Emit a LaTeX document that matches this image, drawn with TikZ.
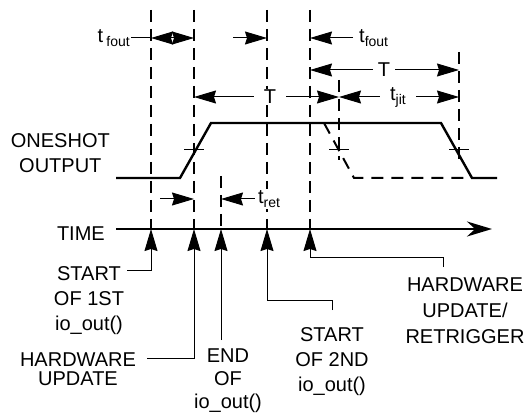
\documentclass[tikz,border=0pt]{standalone}
\usepackage{fontspec}
\setmainfont{Liberation Sans}
\usetikzlibrary{positioning, arrows.meta}
\newcommand{\lowsub}[1]{\raisebox{-4pt}{\fontsize{14}{14}\selectfont #1}}
\tikzset{
  txt/.style={font=\fontsize{20}{25}\selectfont, inner sep=0pt, align=center},
  grid/.style={line width=1.3pt, dash pattern=on 12pt off 7pt},
  sig/.style={line width=2.4pt},
  dim/.style={line width=1pt},
  lead/.style={line width=1pt},
  crs/.style={line width=1pt},
}

\begin{document}
\begin{tikzpicture}[x=1pt, y=-1pt, >={Stealth[length=22pt, width=13pt, inset=2pt]}]
  \useasboundingbox (0,0) rectangle (528,417);
  % marks on the time axis
  \coordinate (g1) at (151,229);
  \coordinate (g2) at (194,229);
  \coordinate (g3) at (221,229);
  \coordinate (g4) at (267,229);
  \coordinate (g5) at (310,229);
  \coordinate (g6) at (339,150);
  \coordinate (g7) at (459,150);
  \coordinate (ax0) at (116,229);
  \coordinate (ax1) at (492,229);

  % dashed markers
  \foreach \x in {151,194,267,310} \draw[grid] (\x,10) -- (\x,229);
  \draw[grid] (221,176) -- (g3);
  \draw[grid] (339,80) -- (339,160);
  \draw[grid] (459,52) -- (459,160);

  % oneshot output
  \draw[sig] (116,178) -- (180,178) -- (211,123) -- (441,123) -- (472,178) -- (497,178);
  \draw[line width=2pt, dash pattern=on 12pt off 8pt] (324,123) -- (354,178) -- (472,178);
  \foreach \x in {194,339,459} \draw[crs] (\x-10,150) -- (\x+10,150);

  \node[txt, anchor=north east] (osout) at (110,133) {ONESHOT\\OUTPUT};
  \node[txt, left=11pt of ax0, yshift=-5pt] (time) {TIME};
  \draw[sig, -{Stealth[length=25pt, width=15pt]}] (ax0) -- (ax1);

  % events
  \node[txt, anchor=north] (start1) at (89,266) {START\\OF 1ST\\io\_out()};
  \node[txt, anchor=north, font=\fontsize{20}{19}\selectfont] (hw1) at (78,353) {HARDWARE\\UPDATE};
  \node[txt, anchor=north, font=\fontsize{20}{23}\selectfont] (end1) at (228,349) {END\\OF\\io\_out()};
  \node[txt, anchor=north] (start2) at (332,327) {START\\OF 2ND\\io\_out()};
  \node[txt, anchor=north, font=\fontsize{20}{26}\selectfont] (hw2) at (465,278) {HARDWARE\\UPDATE/\\RETRIGGER};
  \draw[lead,->] ([xshift=3pt,yshift=-4pt]start1.north east) -| (g1);
  \draw[lead,->] ([xshift=11pt,yshift=-5pt]hw1.north east) -| (g2);
  \draw[lead,->] ([yshift=9pt]end1.north -| g3) -- (g3);
  \draw[lead,->] ([yshift=17pt]start2.north) -- ([yshift=27pt]start2.north) -| (g4);
  \draw[lead,->] ([xshift=-22pt,yshift=11pt]hw2.north) -- ([xshift=-22pt,yshift=21pt]hw2.north) -| (g5);

  % timings
  \node[txt, anchor=east, inner sep=1pt] (tf1) at (131,38) {t\,\lowsub{fout}};
  \draw[dim] (tf1) -- (tf1 -| g1);
  \draw[dim,<->] (tf1 -| g1) -- (tf1 -| g2);
  \draw[dim,->] ([xshift=-34pt]tf1 -| g4) -- (tf1 -| g4);
  \node[txt, anchor=west, inner sep=1pt] (tf2) at (358,38) {t\lowsub{fout}};
  \draw[dim,->] ([xshift=-5pt]tf2.west) -- (tf2.west -| g5);

  \node[txt, inner xsep=5pt] (T2) at (384,70) {T};
  \draw[dim,->] (T2) -- (T2 -| g5);
  \draw[dim,->] (T2) -- (T2 -| g7);

  \node[txt, fill=white, inner xsep=10pt, inner ysep=1pt] (T1) at (270,97) {T};
  \draw[dim,->] (T1) -- (T1 -| g2);
  \draw[dim,->] (T1) -- (T1 -| g6);
  \node[txt, inner xsep=10pt] (tjit) at (398,97) {t\lowsub{jit}};
  \draw[dim,->] (tjit) -- (tjit -| g6);
  \draw[dim,->] (tjit) -- (tjit -| g7);

  \node[txt, fill=white, inner xsep=3pt, inner ysep=1pt] (tret) at (269,199) {t\lowsub{ret}};
  \draw[dim,->] (tret) -- (tret -| g3);
  \draw[dim,->] ([xshift=-34pt]tret -| g2) -- (tret -| g2);
\end{tikzpicture}
\end{document}
